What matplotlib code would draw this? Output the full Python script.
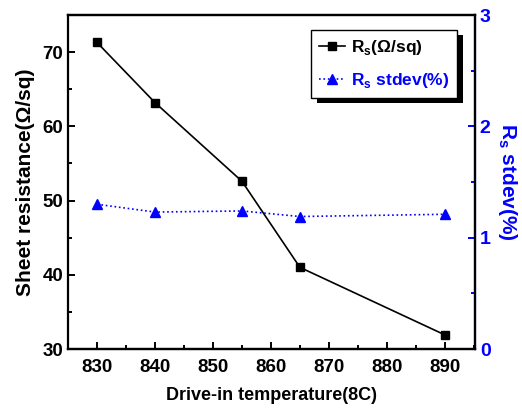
import matplotlib
matplotlib.use('Agg')
import matplotlib.pyplot as plt
from matplotlib.patches import Rectangle
from matplotlib.ticker import MultipleLocator

plt.rcParams['font.family'] = ['Liberation Sans', 'DejaVu Sans']
plt.rcParams['font.weight'] = 'bold'
plt.rcParams['mathtext.fontset'] = 'custom'
plt.rcParams['mathtext.rm'] = 'Liberation Sans:bold'

# drive-in temperatures and measured sheet resistance
temps = [830, 840, 855, 865, 890]
rs = [71.3, 63.2, 52.6, 41.0, 31.9]
rs_std = [1.30, 1.23, 1.24, 1.19, 1.21]

fig = plt.figure(figsize=(5.22, 4.13), dpi=100)
ax = fig.add_axes([68/522, 1 - 349/413, (475-68)/522, (349-15)/413])
ax2 = ax.twinx()

l1, = ax.plot(temps, rs, color='black', lw=1.2, marker='s', ms=6, label=r'R$_\mathregular{s}$(Ω/sq)')
l2, = ax2.plot(temps, rs_std, color='blue', lw=1.2, ls=':', marker='^', ms=7, label=r'R$_\mathregular{s}$ stdev(%)')

ax.set_xlim(825, 895.2)
ax.set_ylim(30, 75)
ax2.set_ylim(0, 3)
ax.xaxis.set_major_locator(MultipleLocator(10))
ax.xaxis.set_minor_locator(MultipleLocator(5))
ax.yaxis.set_major_locator(MultipleLocator(10))
ax.yaxis.set_minor_locator(MultipleLocator(5))
ax2.yaxis.set_major_locator(MultipleLocator(1))
ax2.yaxis.set_minor_locator(MultipleLocator(0.5))

for a in (ax, ax2):
    for s in a.spines.values():
        s.set_linewidth(1.6)
ax2.spines['right'].set_color('blue')
ax2.spines['left'].set_visible(False)

ax.tick_params(which='both', direction='in', width=1.4, labelsize=13.5, top=False, right=False)
ax.tick_params(which='major', length=5)
ax.tick_params(which='minor', length=3)
ax.tick_params(axis='x', pad=7)
ax2.tick_params(which='both', direction='in', width=1.4, color='blue', labelcolor='blue', labelsize=14)
ax2.tick_params(which='major', length=5)
ax2.tick_params(which='minor', length=3)

ax.set_xlabel('Drive-in temperature(8C)', fontsize=13, fontweight='bold', labelpad=8)
ax.set_ylabel('Sheet resistance(Ω/sq)', fontsize=15, fontweight='bold', labelpad=5)
ax2.set_ylabel(r'R$_\mathregular{s}$ stdev(%)', fontsize=15, fontweight='bold', color='blue',
               rotation=270, labelpad=20)

# black axes on top so the legend sits above both curves
ax2.set_zorder(1)
ax.set_zorder(2)
ax.patch.set_visible(False)

leg = ax.legend([l1, l2], [l1.get_label(), l2.get_label()], loc='upper right',
                bbox_to_anchor=(0.956, 0.955), fontsize=12.5, frameon=True, fancybox=False,
                handlelength=1.5, borderpad=0.45, labelspacing=0.8, handletextpad=0.35,
                borderaxespad=0)
leg.get_frame().set_edgecolor('black')
leg.get_frame().set_linewidth(1.0)
leg.get_frame().set_alpha(1)
leg.get_texts()[1].set_color('blue')
leg.set_zorder(5)

# solid black drop shadow behind the legend box
fig.canvas.draw()
bb = leg.get_window_extent().transformed(fig.transFigure.inverted())
dx, dy = 6/522, 5/413
ax.add_patch(Rectangle((bb.x0 + dx, bb.y0 - dy), bb.width, bb.height,
                       transform=fig.transFigure, facecolor='black', zorder=4, clip_on=False))

fig.savefig('out.png', dpi=100)
